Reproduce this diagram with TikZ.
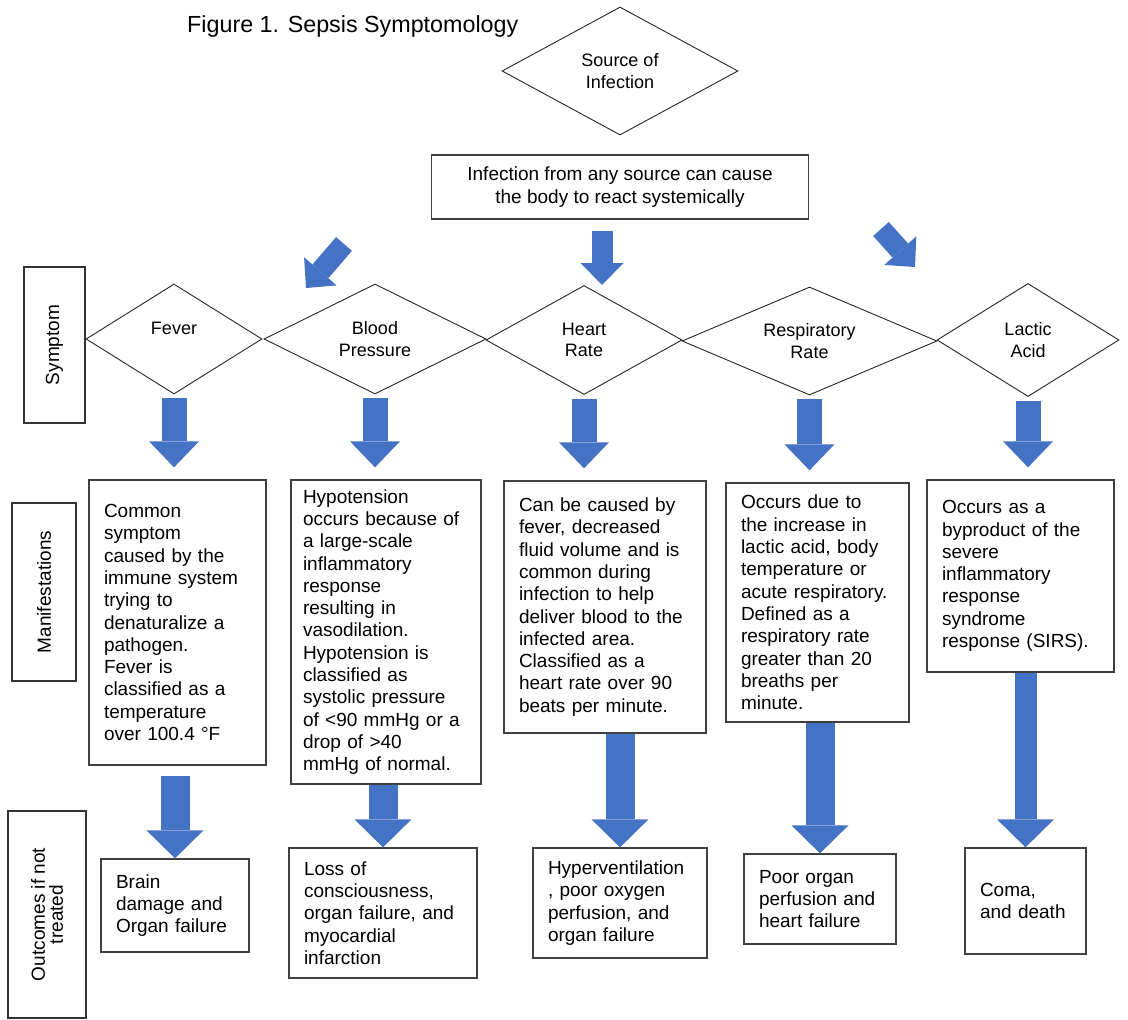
\documentclass[tikz,border=0pt]{standalone}
\usepackage{fontspec}
\setmainfont{Liberation Sans}
\usetikzlibrary{arrows.meta,positioning,shapes.geometric}
\definecolor{arrowblue}{HTML}{4472C4}

\begin{document}
\begin{tikzpicture}[x=1pt, y=-1pt,
        box/.style={draw=black!75, line width=1.3pt, align=left,
          font=\fontsize{19}{22.3}\selectfont, inner xsep=15pt, inner ysep=0pt},
        tag/.style={draw=black!80, line width=1.3pt, rotate=90, align=center,
          font=\fontsize{19}{18}\selectfont, inner sep=0pt},
        dia/.style={diamond, draw=black!85, line width=0.9pt, align=center,
          font=\fontsize{18}{21.5}\selectfont, inner sep=0pt, aspect=2},
        arr/.style={draw=arrowblue, line width=25pt,
          -{Triangle[width=50pt, length=26pt, line width=0pt]}},
        arrbig/.style={draw=arrowblue, line width=29pt,
          -{Triangle[width=57pt, length=28pt, line width=0pt]}},
        arrtop/.style={draw=arrowblue, line width=21pt,
          -{Triangle[width=43pt, length=22pt, line width=0pt]}}
      ]
        \useasboundingbox (0,0) rectangle (1128,1020);

        \node[anchor=base west, inner sep=0pt, font=\fontsize{23.3}{27}\selectfont]
          (title) at (187,32) {Figure 1. Sepsis Symptomology};

        % source and general reaction
        \node[dia, minimum width=236pt, minimum height=128pt] (src) at (620,71) {Source of\\Infection};
        \node[box, align=center, inner xsep=0pt, minimum width=377pt, minimum height=64pt,
          font=\fontsize{19}{23}\selectfont, below=19pt of src] (inf)
          {Infection from any source can cause\\the body to react systemically};

        % row labels
        \node[tag, minimum width=156pt, minimum height=61pt] (sym) at (54.5,345) {Symptom};
        \node[tag, minimum width=178pt, minimum height=64pt] (man) at (44,592) {Manifestations};
        \node[tag, minimum width=207pt, minimum height=78pt] (out) at (47,914.5) {Outcomes if not\\treated};

        % symptoms
        \node[dia, minimum width=176pt, minimum height=110pt] (fev) at (174,339) {Fever\\\mbox{}};
        \node[dia, minimum width=222pt, minimum height=110pt] (bp) at (375,339) {Blood\\Pressure};
        \node[dia, minimum width=196pt, minimum height=109pt] (hr) at (584,340) {Heart\\Rate};
        \node[dia, minimum width=255pt, minimum height=108pt] (rr) at (809.5,341) {Respiratory\\Rate};
        \node[dia, minimum width=182pt, minimum height=113pt] (la) at (1028,340) {Lactic\\Acid};

        % manifestations
        \node[box, text width=147pt, minimum height=285pt] (fevm) at (177.5,622.5)
          {Common\\symptom\\caused by the\\immune system\\trying to\\denaturalize a\\pathogen.\\Fever is\\classified as a\\temperature\\over 100.4 °F};
        \node[box, inner xsep=12pt, text width=166pt, minimum height=304pt] (bpm) at (386,632)
          {Hypotension\\occurs because of\\a large-scale\\inflammatory\\response\\resulting in\\vasodilation.\\Hypotension is\\classified as\\systolic pressure\\of <90 mmHg or a\\drop of >40\\mmHg of normal.};
        \node[box, text width=172pt, minimum height=252pt] (hrm) at (605,607)
          {Can be caused by\\fever, decreased\\fluid volume and is\\common during\\infection to help\\deliver blood to the\\infected area.\\Classified as a\\heart rate over 90\\beats per minute.};
        \node[box, text width=153pt, minimum height=239pt] (rrm) at (817.5,602.5)
          {Occurs due to\\the increase in\\lactic acid, body\\temperature or\\acute respiratory.\\Defined as a\\respiratory rate\\greater than 20\\breaths per\\minute.};
        \node[box, text width=157pt, minimum height=192pt] (lam) at (1020.5,576)
          {Occurs as a\\byproduct of the\\severe\\inflammatory\\response\\syndrome\\response (SIRS).};

        % outcomes if not treated
        \node[box, text width=118pt, minimum height=93pt] (fevo) at (175,905.5)
          {Brain\\damage and\\Organ failure};
        \node[box, text width=158pt, minimum height=130pt] (bpo) at (383,913)
          {Loss of\\consciousness,\\organ failure, and\\myocardial\\infarction};
        \node[box, text width=144pt, minimum height=110pt] (hro) at (620,903)
          {Hyperventilation\\, poor oxygen\\perfusion, and\\organ failure};
        \node[box, text width=122pt, minimum height=90pt] (rro) at (820,899)
          {Poor organ\\perfusion and\\heart failure};
        \node[box, text width=91pt, minimum height=106pt] (lao) at (1025.5,901)
          {Coma,\\and death};

        % arrows from the general reaction
        \coordinate (lft) at (344,244);
        \coordinate (lftend) at (306,288);
        \coordinate (mid) at (602,231);
        \coordinate (midend) at (602,285);
        \coordinate (rgt) at (881,229);
        \coordinate (rgtend) at (915,267);
        \draw[arrtop] (lft) -- (lftend);
        \draw[arrtop] (mid) -- (midend);
        \draw[arrtop] (rgt) -- (rgtend);

        % symptom -> manifestation
        \foreach \s in {fev,bp,hr,rr,la}
          \draw[arr, shorten <=4pt, shorten >=12pt] (\s.south) -- (\s.south |- \s m.north);

        % manifestation -> outcome
        \draw[arrbig, shorten <=10pt] (fevo.north |- fevm.south) -- (fevo.north);
        \foreach \s in {bp,hr,rr}
          \draw[arrbig] (\s o.north |- \s m.south) -- (\s o.north);
        \draw[arrbig, line width=22pt] (lao.north |- lam.south) -- (lao.north);
      \end{tikzpicture}
\end{document}
